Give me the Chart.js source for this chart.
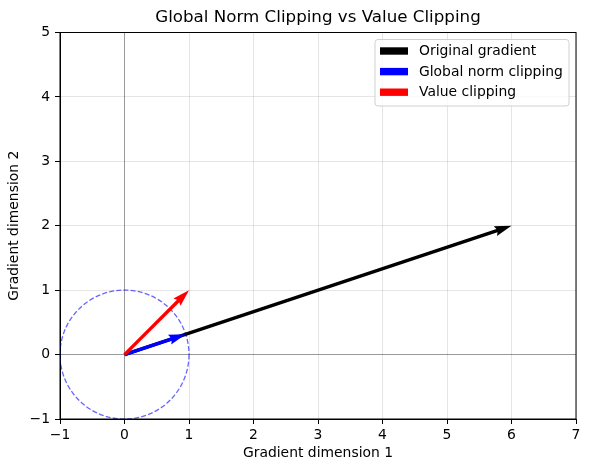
<!DOCTYPE html>
<html>
<head>
<meta charset="utf-8">
<script src="https://cdn.jsdelivr.net/npm/chart.js@4.4.1/dist/chart.umd.min.js"></script>
<style>
  html, body { margin: 0; padding: 0; background: #fff; }
  #wrap { width: 590px; height: 472px; }
</style>
</head>
<body>
<div id="wrap"><canvas id="myChart"></canvas></div>
<script>
// gradient vectors (start at origin)
const seriesNames = ['Original gradient', 'Global norm clipping', 'Value clipping'];
const seriesColors = ['#000000', '#0000ff', '#ff0000'];
const vecX = [6, 0.949, 1];
const vecY = [2, 0.316, 1];
const clipRadius = 1;
const xTicks = [-1, 0, 1, 2, 3, 4, 5, 6, 7];
const yTicks = [-1, 0, 1, 2, 3, 4, 5];
const chartTitle = 'Global Norm Clipping vs Value Clipping';

const FONT = 'DejaVu Sans';
Chart.defaults.font.family = FONT;
Chart.defaults.color = '#000';

// quiver style arrows + unit circle + frame + legend box + title
const quiverPlugin = {
  id: 'quiver',
  afterDatasetsDraw(chart) {
    const ctx = chart.ctx;
    const area = chart.chartArea;
    const xs = chart.scales.x, ys = chart.scales.y;

    ctx.save();
    ctx.beginPath();
    ctx.rect(area.left, area.top, area.right - area.left, area.bottom - area.top);
    ctx.clip();

    // clipping threshold circle
    const cx = xs.getPixelForValue(0), cy = ys.getPixelForValue(0);
    const r = xs.getPixelForValue(clipRadius) - cx;
    ctx.beginPath();
    ctx.arc(cx, cy, r, 0, Math.PI * 2);
    ctx.setLineDash([5, 2.2]);
    ctx.lineWidth = 1.3;
    ctx.strokeStyle = 'rgba(0,0,255,0.6)';
    ctx.stroke();
    ctx.setLineDash([]);

    const w = 3.4;
    chart.data.datasets.forEach((ds, i) => {
      const pts = chart.getDatasetMeta(i).data;
      const x0 = pts[0].x, y0 = pts[0].y, x1 = pts[1].x, y1 = pts[1].y;
      const len = Math.hypot(x1 - x0, y1 - y0);
      const ux = (x1 - x0) / len, uy = (y1 - y0) / len;
      const nx = -uy, ny = ux;
      const hl = 5 * w, hal = 4.5 * w, hw = 1.5 * w, sw = 0.5 * w;
      const P = (a, b) => [x0 + ux * a + nx * b, y0 + uy * a + ny * b];
      const poly = [
        P(0, -sw), P(len - hal, -sw), P(len - hl, -hw), P(len, 0),
        P(len - hl, hw), P(len - hal, sw), P(0, sw)
      ];
      ctx.beginPath();
      poly.forEach((p, k) => k ? ctx.lineTo(p[0], p[1]) : ctx.moveTo(p[0], p[1]));
      ctx.closePath();
      ctx.fillStyle = ds.borderColor;
      ctx.fill();
    });
    ctx.restore();

    // frame
    ctx.save();
    ctx.strokeStyle = '#000';
    ctx.lineWidth = 1;
    ctx.strokeRect(area.left, area.top, area.right - area.left, area.bottom - area.top);

    // title, centred over the plot area
    ctx.fillStyle = '#000';
    ctx.font = '16.7px "' + FONT + '"';
    ctx.textAlign = 'center';
    ctx.textBaseline = 'middle';
    ctx.fillText(chartTitle, (area.left + area.right) / 2, 18);

    // legend
    const bx = 375, by = 39.5, bw = 194, bh = 66.5;
    ctx.beginPath();
    ctx.roundRect(bx, by, bw, bh, 3);
    ctx.fillStyle = 'rgba(255,255,255,0.8)';
    ctx.fill();
    ctx.strokeStyle = '#d0d0d0';
    ctx.stroke();
    ctx.font = '13.9px "' + FONT + '"';
    ctx.textAlign = 'left';
    chart.data.datasets.forEach((ds, i) => {
      const yy = 51 + i * 20.6;
      ctx.fillStyle = ds.borderColor;
      ctx.fillRect(380, yy - 3.7, 28, 7.4);
      ctx.fillStyle = '#000';
      ctx.fillText(ds.label, 419, yy + 0.5);
    });
    ctx.restore();
  }
};

const datasets = seriesNames.map((name, i) => ({
  label: name,
  data: [{x: 0, y: 0}, {x: vecX[i], y: vecY[i]}],
  borderColor: seriesColors[i],
  backgroundColor: seriesColors[i],
  showLine: false,
  pointRadius: 0
}));

const gridColor = ctx => ctx.tick && ctx.tick.value === 0 ? 'rgba(0,0,0,0.4)' : 'rgba(0,0,0,0.1)';
const minusLabel = v => String(v).replace('-', '\u2212');

new Chart(document.getElementById('myChart'), {
  type: 'scatter',
  data: { datasets: datasets },
  plugins: [quiverPlugin],
  options: {
    responsive: true,
    maintainAspectRatio: false,
    animation: false,
    layout: { padding: { left: 0, right: 14, top: 32.5, bottom: 0 } },
    plugins: {
      legend: { display: false },
      tooltip: { enabled: false },
      title: { display: false }
    },
    scales: {
      x: {
        type: 'linear',
        min: -1, max: 7,
        afterBuildTicks: s => { s.ticks = xTicks.map(v => ({ value: v })); },
        afterFit: s => { s.height = 53; },
        ticks: { font: { size: 13.9 }, color: '#000', padding: 3, maxRotation: 0, callback: minusLabel },
        grid: { color: gridColor, tickColor: '#000', tickLength: 5, drawTicks: true },
        border: { display: true, color: '#000' },
        title: { display: true, text: 'Gradient dimension 1', font: { size: 13.9 }, color: '#000', padding: { top: 0, bottom: 10.5 } }
      },
      y: {
        type: 'linear',
        min: -1, max: 5,
        afterBuildTicks: s => { s.ticks = yTicks.map(v => ({ value: v })); },
        afterFit: s => { s.width = 60; },
        ticks: { font: { size: 13.9 }, color: '#000', padding: 5, callback: minusLabel },
        grid: { color: gridColor, tickColor: '#000', tickLength: 5, drawTicks: true },
        border: { display: true, color: '#000' },
        title: { display: true, text: 'Gradient dimension 2', font: { size: 13.9 }, color: '#000', padding: { top: 6.5, bottom: 0 } }
      }
    }
  }
});
</script>
</body>
</html>
